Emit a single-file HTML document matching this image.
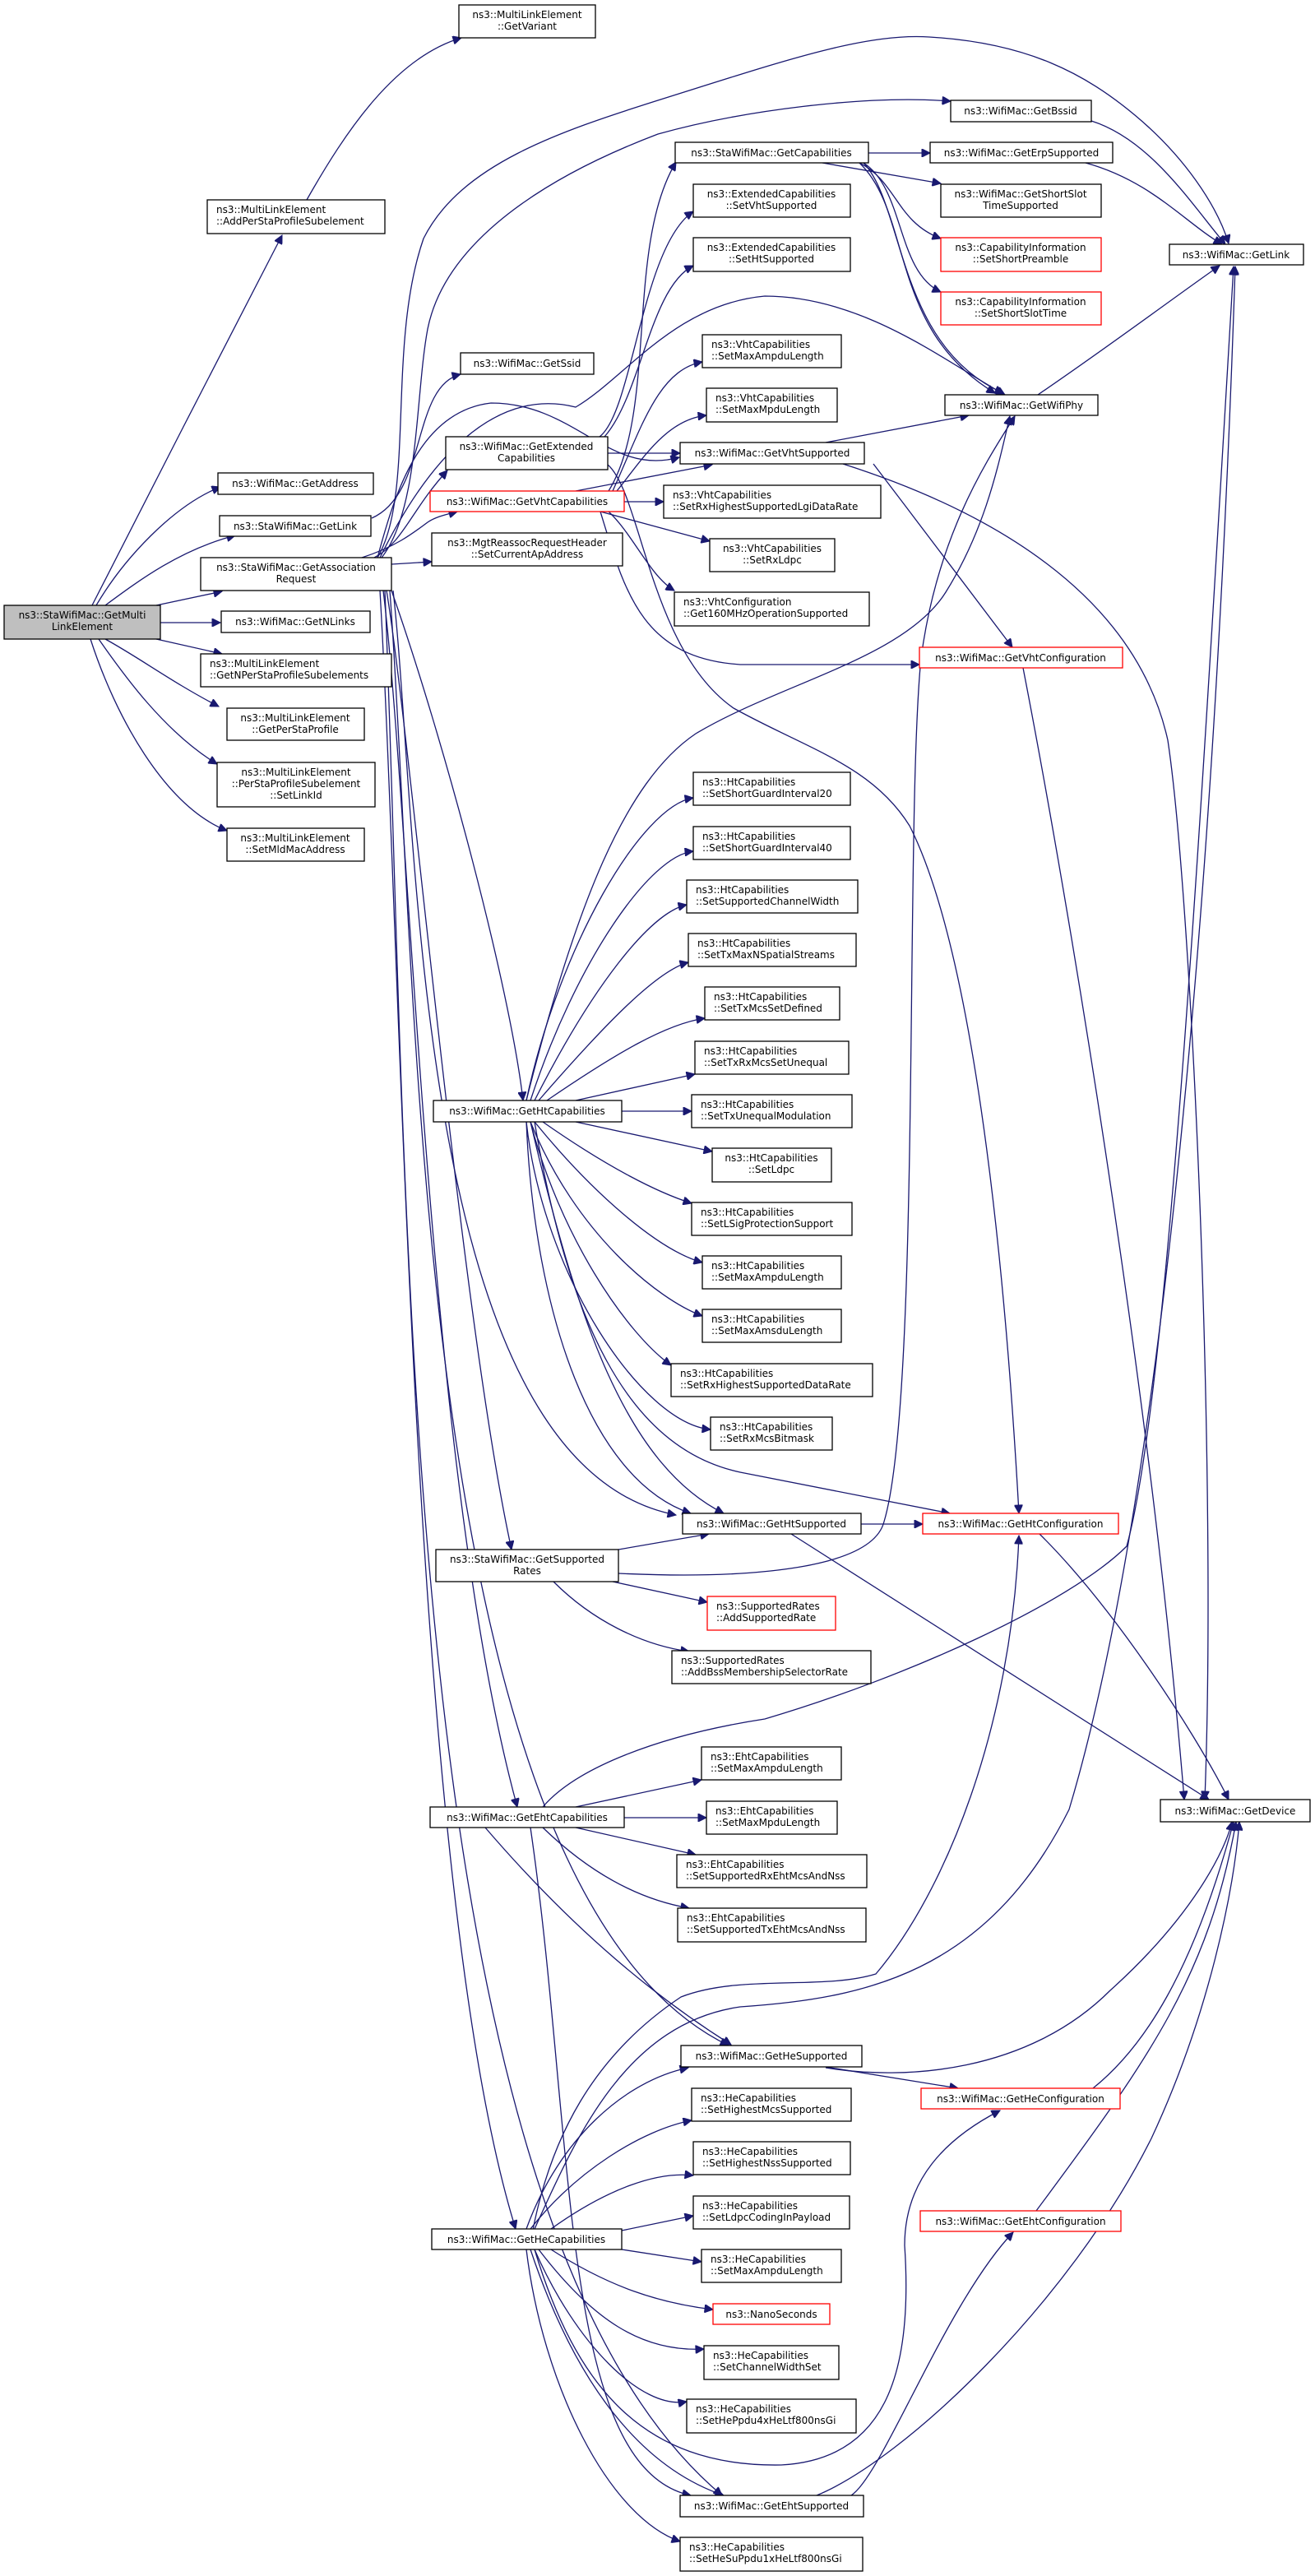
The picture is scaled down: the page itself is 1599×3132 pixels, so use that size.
<!DOCTYPE html>
<html><head><meta charset="utf-8"><style>
html,body{margin:0;padding:0;background:#fff;}
svg{display:block;}
text{font-family:"DejaVu Sans","Liberation Sans",sans-serif;font-size:12px;fill:#000;}
.n{fill:#fff;stroke:#000;stroke-width:1.3;}
.r{fill:#fff;stroke:#ff0000;stroke-width:1.3;}
.g{fill:#bfbfbf;stroke:#000;stroke-width:1.3;}
path{fill:none;stroke:#191970;stroke-width:1.3;}
</style></head><body>
<svg width="1599" height="3132" viewBox="0 0 1599 3132" xmlns="http://www.w3.org/2000/svg">
<defs><marker id="a" viewBox="0 0 10 10" refX="10" refY="5" markerWidth="14" markerHeight="10" markerUnits="userSpaceOnUse" orient="auto"><path d="M0,0 L10,5 L0,10 z" style="fill:#191970;stroke:#191970;stroke-width:1"/></marker></defs>
<g marker-end="url(#a)">
<path d="M112 736 C170 620 290 390 343 286"/>
<path d="M373 243 C420 160 480 70 561 46"/>
<path d="M117 736 C150 680 210 615 268 592"/>
<path d="M128 736 C170 705 220 668 286 651"/>
<path d="M190 736 L270 719"/>
<path d="M195 757 L268 757"/>
<path d="M190 777 L270 795"/>
<path d="M128 777 C170 800 210 830 266 859"/>
<path d="M120 777 C150 820 200 890 264 929"/>
<path d="M110 777 C140 870 200 980 276 1010"/>
<path d="M452 630 C520 600 500 470 560 455"/>
<path d="M455 678 C490 660 500 620 544 572"/>
<path d="M440 678 C480 665 500 650 520 635 C530 628 545 625 556 622"/>
<path d="M476 686 L525 683"/>
<path d="M459 678 C505 600 470 420 515 290 C560 200 680 160 800 122 C950 75 1050 40 1130 45 C1250 52 1320 90 1380 140 C1440 190 1480 250 1494 296"/>
<path d="M464 678 C510 620 505 480 520 400 C540 300 650 220 800 163 C900 135 1050 115 1156 123"/>
<path d="M459 678 C480 600 510 500 597 490 C700 490 740 580 826 556"/>
<path d="M462 678 C520 560 600 470 700 495 C760 460 820 370 930 360 C1050 360 1150 440 1222 480"/>
<path d="M476 718 C540 900 620 1200 636 1338"/>
<path d="M470 718 C500 900 560 1600 622 1884"/>
<path d="M466 718 C500 1000 520 1800 629 2197"/>
<path d="M462 718 C490 1200 500 2300 627 2710"/>
<path d="M478 718 C510 1000 500 1780 822 1842"/>
<path d="M474 718 C510 1200 500 2300 886 2487"/>
<path d="M468 718 C500 1500 480 2700 878 3034"/>
<path d="M729 531 C770 500 780 300 843 257"/>
<path d="M735 531 C780 480 790 350 843 323"/>
<path d="M739 551 L827 551"/>
<path d="M739 565 C780 600 790 790 892 861 C980 910 1060 930 1106 1004 C1180 1150 1220 1500 1239 1840"/>
<path d="M740 597 C800 500 760 300 822 197"/>
<path d="M745 597 C780 520 800 450 854 440"/>
<path d="M750 597 C780 560 810 510 859 505"/>
<path d="M700 597 L866 565"/>
<path d="M759 610 L807 610"/>
<path d="M730 622 L863 658"/>
<path d="M740 622 C770 650 790 700 820 718"/>
<path d="M730 622 C760 720 780 800 900 808 L1118 808"/>
<path d="M1056 186 L1131 186"/>
<path d="M1000 198 L1144 223"/>
<path d="M1045 198 C1090 220 1090 270 1144 290"/>
<path d="M1050 198 C1100 230 1090 330 1144 355"/>
<path d="M1045 198 C1110 260 1080 400 1210 478"/>
<path d="M1050 198 C1100 250 1090 420 1220 478"/>
<path d="M1327 147 C1400 170 1450 250 1490 297"/>
<path d="M1320 198 C1400 220 1440 270 1486 297"/>
<path d="M1262 480 C1350 420 1430 360 1483 323"/>
<path d="M1004 538 L1178 505"/>
<path d="M1062 564 C1120 640 1180 720 1231 787"/>
<path d="M1025 564 C1200 620 1380 720 1420 900 C1450 1100 1480 1800 1465 2188"/>
<path d="M1244 812 C1300 1100 1400 1700 1440 2188"/>
<path d="M660 2197 C700 2150 800 2110 930 2090 C1100 2040 1300 1950 1370 1880 C1420 1700 1460 1000 1500 324"/>
<path d="M650 2710 C700 2600 760 2460 900 2440 C1050 2430 1200 2400 1300 2200 C1420 1800 1480 1000 1502 324"/>
<path d="M752 1913 C900 1920 1060 1910 1075 1850 C1120 1700 1100 1000 1120 800 C1140 650 1200 560 1234 506"/>
<path d="M640 1338 C700 1100 760 950 846 892 C950 830 1100 800 1150 720 C1200 640 1215 560 1228 506"/>
<path d="M640 1338 C680 1150 780 980 843 970"/>
<path d="M645 1338 C700 1170 790 1040 843 1035"/>
<path d="M650 1338 C720 1200 790 1110 835 1100"/>
<path d="M655 1338 C740 1240 800 1180 837 1170"/>
<path d="M665 1338 C750 1280 810 1245 857 1238"/>
<path d="M700 1338 L845 1306"/>
<path d="M756 1351 L841 1351"/>
<path d="M700 1364 L866 1400"/>
<path d="M660 1364 C740 1420 800 1450 841 1463"/>
<path d="M650 1364 C720 1450 800 1520 854 1535"/>
<path d="M645 1364 C700 1500 800 1580 854 1600"/>
<path d="M645 1364 C680 1500 760 1620 816 1660"/>
<path d="M640 1364 C660 1550 780 1730 864 1738"/>
<path d="M640 1364 C650 1600 720 1800 840 1840"/>
<path d="M645 1364 C700 1600 760 1780 880 1840"/>
<path d="M650 1364 C690 1600 760 1760 900 1790 C1000 1810 1100 1830 1155 1840"/>
<path d="M1047 1853 L1122 1853"/>
<path d="M962 1865 L1470 2188"/>
<path d="M1264 1865 C1350 1950 1450 2100 1494 2188"/>
<path d="M752 1884 L862 1865"/>
<path d="M745 1923 L860 1948"/>
<path d="M673 1923 C720 1970 780 2000 838 2008"/>
<path d="M700 2197 L853 2164"/>
<path d="M759 2210 L859 2210"/>
<path d="M700 2222 L846 2255"/>
<path d="M660 2222 C720 2280 780 2310 838 2320"/>
<path d="M645 2222 C700 2600 680 3000 840 3034"/>
<path d="M648 2711 C670 2600 720 2500 828 2428 C900 2400 1000 2420 1065 2400 C1150 2300 1230 2100 1239 1867"/>
<path d="M640 2710 C680 2600 760 2530 837 2514"/>
<path d="M645 2710 C700 2640 780 2590 841 2578"/>
<path d="M670 2710 C740 2660 800 2640 843 2645"/>
<path d="M756 2712 L843 2694"/>
<path d="M756 2735 L853 2750"/>
<path d="M670 2735 C740 2780 800 2800 867 2808"/>
<path d="M655 2735 C720 2820 780 2860 856 2856"/>
<path d="M650 2735 C700 2850 780 2930 835 2920"/>
<path d="M645 2735 C700 2900 780 3000 880 3034"/>
<path d="M640 2735 C660 2900 740 3060 827 3090"/>
<path d="M650 2735 C700 2900 780 3000 950 2997 C1080 2990 1110 2880 1100 2730 C1100 2650 1150 2600 1216 2566"/>
<path d="M1004 2513 L1165 2539"/>
<path d="M1004 2514 C1100 2530 1250 2520 1350 2420 C1450 2330 1490 2250 1498 2215"/>
<path d="M1329 2539 C1390 2490 1450 2400 1500 2215"/>
<path d="M1260 2688 C1400 2500 1470 2400 1503 2215"/>
<path d="M1035 3034 C1073 3010 1150 2800 1232 2714"/>
<path d="M993 3034 C1100 2990 1300 2800 1400 2600 C1470 2450 1500 2300 1507 2215"/>
<path d="M590 2222 C700 2350 800 2430 889 2486"/>
</g>
<g>
<rect class="g" x="5" y="736" width="190" height="41"/><text x="100" y="752" text-anchor="middle">ns3::StaWifiMac::GetMulti</text><text x="100" y="766" text-anchor="middle">LinkElement</text>
<rect class="n" x="558" y="6" width="166" height="40"/><text x="641" y="22" text-anchor="middle">ns3::MultiLinkElement</text><text x="641" y="36" text-anchor="middle">::GetVariant</text>
<rect class="n" x="252" y="243" width="216" height="41"/><text x="263" y="259">ns3::MultiLinkElement</text><text x="263" y="273">::AddPerStaProfileSubelement</text>
<rect class="n" x="560" y="429" width="162" height="26"/><text x="641" y="446" text-anchor="middle">ns3::WifiMac::GetSsid</text>
<rect class="n" x="542" y="531" width="197" height="40"/><text x="640" y="547" text-anchor="middle">ns3::WifiMac::GetExtended</text><text x="640" y="561" text-anchor="middle">Capabilities</text>
<rect class="n" x="265" y="575" width="189" height="26"/><text x="359" y="592" text-anchor="middle">ns3::WifiMac::GetAddress</text>
<rect class="n" x="267" y="627" width="184" height="25"/><text x="359" y="644" text-anchor="middle">ns3::StaWifiMac::GetLink</text>
<rect class="r" x="523" y="597" width="236" height="25"/><text x="641" y="614" text-anchor="middle">ns3::WifiMac::GetVhtCapabilities</text>
<rect class="n" x="525" y="648" width="232" height="40"/><text x="641" y="664" text-anchor="middle">ns3::MgtReassocRequestHeader</text><text x="641" y="678" text-anchor="middle">::SetCurrentApAddress</text>
<rect class="n" x="244" y="678" width="232" height="40"/><text x="360" y="694" text-anchor="middle">ns3::StaWifiMac::GetAssociation</text><text x="360" y="708" text-anchor="middle">Request</text>
<rect class="n" x="269" y="743" width="181" height="26"/><text x="359" y="760" text-anchor="middle">ns3::WifiMac::GetNLinks</text>
<rect class="n" x="244" y="795" width="232" height="40"/><text x="255" y="811">ns3::MultiLinkElement</text><text x="255" y="825">::GetNPerStaProfileSubelements</text>
<rect class="n" x="276" y="861" width="167" height="39"/><text x="359" y="877" text-anchor="middle">ns3::MultiLinkElement</text><text x="359" y="891" text-anchor="middle">::GetPerStaProfile</text>
<rect class="n" x="264" y="927" width="192" height="54"/><text x="360" y="943" text-anchor="middle">ns3::MultiLinkElement</text><text x="360" y="957" text-anchor="middle">::PerStaProfileSubelement</text><text x="360" y="971" text-anchor="middle">::SetLinkId</text>
<rect class="n" x="276" y="1007" width="167" height="40"/><text x="359" y="1023" text-anchor="middle">ns3::MultiLinkElement</text><text x="359" y="1037" text-anchor="middle">::SetMldMacAddress</text>
<rect class="n" x="527" y="1338" width="229" height="26"/><text x="641" y="1355" text-anchor="middle">ns3::WifiMac::GetHtCapabilities</text>
<rect class="n" x="1156" y="122" width="171" height="26"/><text x="1241" y="139" text-anchor="middle">ns3::WifiMac::GetBssid</text>
<rect class="n" x="821" y="173" width="235" height="25"/><text x="938" y="190" text-anchor="middle">ns3::StaWifiMac::GetCapabilities</text>
<rect class="n" x="1131" y="173" width="222" height="25"/><text x="1242" y="190" text-anchor="middle">ns3::WifiMac::GetErpSupported</text>
<rect class="n" x="843" y="224" width="191" height="40"/><text x="938" y="240" text-anchor="middle">ns3::ExtendedCapabilities</text><text x="938" y="254" text-anchor="middle">::SetVhtSupported</text>
<rect class="n" x="1144" y="224" width="195" height="40"/><text x="1241" y="240" text-anchor="middle">ns3::WifiMac::GetShortSlot</text><text x="1241" y="254" text-anchor="middle">TimeSupported</text>
<rect class="n" x="843" y="289" width="191" height="41"/><text x="938" y="305" text-anchor="middle">ns3::ExtendedCapabilities</text><text x="938" y="319" text-anchor="middle">::SetHtSupported</text>
<rect class="r" x="1144" y="289" width="195" height="41"/><text x="1241" y="305" text-anchor="middle">ns3::CapabilityInformation</text><text x="1241" y="319" text-anchor="middle">::SetShortPreamble</text>
<rect class="r" x="1144" y="355" width="195" height="40"/><text x="1241" y="371" text-anchor="middle">ns3::CapabilityInformation</text><text x="1241" y="385" text-anchor="middle">::SetShortSlotTime</text>
<rect class="n" x="1422" y="297" width="163" height="25"/><text x="1503" y="314" text-anchor="middle">ns3::WifiMac::GetLink</text>
<rect class="n" x="854" y="407" width="169" height="40"/><text x="865" y="423">ns3::VhtCapabilities</text><text x="865" y="437">::SetMaxAmpduLength</text>
<rect class="n" x="859" y="472" width="159" height="41"/><text x="870" y="488">ns3::VhtCapabilities</text><text x="870" y="502">::SetMaxMpduLength</text>
<rect class="n" x="1149" y="480" width="186" height="25"/><text x="1242" y="497" text-anchor="middle">ns3::WifiMac::GetWifiPhy</text>
<rect class="n" x="827" y="538" width="224" height="26"/><text x="939" y="555" text-anchor="middle">ns3::WifiMac::GetVhtSupported</text>
<rect class="n" x="807" y="590" width="264" height="40"/><text x="818" y="606">ns3::VhtCapabilities</text><text x="818" y="620">::SetRxHighestSupportedLgiDataRate</text>
<rect class="n" x="863" y="655" width="152" height="40"/><text x="939" y="671" text-anchor="middle">ns3::VhtCapabilities</text><text x="939" y="685" text-anchor="middle">::SetRxLdpc</text>
<rect class="n" x="820" y="720" width="237" height="41"/><text x="831" y="736">ns3::VhtConfiguration</text><text x="831" y="750">::Get160MHzOperationSupported</text>
<rect class="r" x="1118" y="787" width="247" height="25"/><text x="1241" y="804" text-anchor="middle">ns3::WifiMac::GetVhtConfiguration</text>
<rect class="n" x="843" y="939" width="191" height="40"/><text x="854" y="955">ns3::HtCapabilities</text><text x="854" y="969">::SetShortGuardInterval20</text>
<rect class="n" x="843" y="1005" width="191" height="40"/><text x="854" y="1021">ns3::HtCapabilities</text><text x="854" y="1035">::SetShortGuardInterval40</text>
<rect class="n" x="835" y="1070" width="208" height="40"/><text x="846" y="1086">ns3::HtCapabilities</text><text x="846" y="1100">::SetSupportedChannelWidth</text>
<rect class="n" x="837" y="1135" width="204" height="40"/><text x="848" y="1151">ns3::HtCapabilities</text><text x="848" y="1165">::SetTxMaxNSpatialStreams</text>
<rect class="n" x="857" y="1200" width="164" height="40"/><text x="868" y="1216">ns3::HtCapabilities</text><text x="868" y="1230">::SetTxMcsSetDefined</text>
<rect class="n" x="845" y="1266" width="187" height="40"/><text x="856" y="1282">ns3::HtCapabilities</text><text x="856" y="1296">::SetTxRxMcsSetUnequal</text>
<rect class="n" x="841" y="1331" width="195" height="40"/><text x="852" y="1347">ns3::HtCapabilities</text><text x="852" y="1361">::SetTxUnequalModulation</text>
<rect class="n" x="866" y="1396" width="145" height="41"/><text x="938" y="1412" text-anchor="middle">ns3::HtCapabilities</text><text x="938" y="1426" text-anchor="middle">::SetLdpc</text>
<rect class="n" x="841" y="1462" width="195" height="40"/><text x="852" y="1478">ns3::HtCapabilities</text><text x="852" y="1492">::SetLSigProtectionSupport</text>
<rect class="n" x="854" y="1527" width="169" height="40"/><text x="865" y="1543">ns3::HtCapabilities</text><text x="865" y="1557">::SetMaxAmpduLength</text>
<rect class="n" x="854" y="1592" width="169" height="40"/><text x="865" y="1608">ns3::HtCapabilities</text><text x="865" y="1622">::SetMaxAmsduLength</text>
<rect class="n" x="816" y="1658" width="245" height="40"/><text x="827" y="1674">ns3::HtCapabilities</text><text x="827" y="1688">::SetRxHighestSupportedDataRate</text>
<rect class="n" x="864" y="1723" width="148" height="40"/><text x="875" y="1739">ns3::HtCapabilities</text><text x="875" y="1753">::SetRxMcsBitmask</text>
<rect class="n" x="830" y="1840" width="217" height="25"/><text x="938" y="1857" text-anchor="middle">ns3::WifiMac::GetHtSupported</text>
<rect class="r" x="1122" y="1840" width="238" height="25"/><text x="1241" y="1857" text-anchor="middle">ns3::WifiMac::GetHtConfiguration</text>
<rect class="n" x="530" y="1884" width="222" height="39"/><text x="641" y="1900" text-anchor="middle">ns3::StaWifiMac::GetSupported</text><text x="641" y="1914" text-anchor="middle">Rates</text>
<rect class="r" x="860" y="1941" width="156" height="41"/><text x="871" y="1957">ns3::SupportedRates</text><text x="871" y="1971">::AddSupportedRate</text>
<rect class="n" x="817" y="2007" width="242" height="40"/><text x="828" y="2023">ns3::SupportedRates</text><text x="828" y="2037">::AddBssMembershipSelectorRate</text>
<rect class="n" x="853" y="2124" width="170" height="40"/><text x="864" y="2140">ns3::EhtCapabilities</text><text x="864" y="2154">::SetMaxAmpduLength</text>
<rect class="n" x="1411" y="2188" width="182" height="27"/><text x="1502" y="2206" text-anchor="middle">ns3::WifiMac::GetDevice</text>
<rect class="n" x="523" y="2197" width="236" height="25"/><text x="641" y="2214" text-anchor="middle">ns3::WifiMac::GetEhtCapabilities</text>
<rect class="n" x="859" y="2190" width="159" height="40"/><text x="870" y="2206">ns3::EhtCapabilities</text><text x="870" y="2220">::SetMaxMpduLength</text>
<rect class="n" x="823" y="2255" width="231" height="40"/><text x="834" y="2271">ns3::EhtCapabilities</text><text x="834" y="2285">::SetSupportedRxEhtMcsAndNss</text>
<rect class="n" x="824" y="2320" width="229" height="41"/><text x="835" y="2336">ns3::EhtCapabilities</text><text x="835" y="2350">::SetSupportedTxEhtMcsAndNss</text>
<rect class="n" x="828" y="2487" width="220" height="26"/><text x="938" y="2504" text-anchor="middle">ns3::WifiMac::GetHeSupported</text>
<rect class="r" x="1120" y="2539" width="242" height="25"/><text x="1241" y="2556" text-anchor="middle">ns3::WifiMac::GetHeConfiguration</text>
<rect class="n" x="841" y="2539" width="194" height="40"/><text x="852" y="2555">ns3::HeCapabilities</text><text x="852" y="2569">::SetHighestMcsSupported</text>
<rect class="n" x="843" y="2604" width="191" height="40"/><text x="854" y="2620">ns3::HeCapabilities</text><text x="854" y="2634">::SetHighestNssSupported</text>
<rect class="n" x="843" y="2670" width="190" height="40"/><text x="854" y="2686">ns3::HeCapabilities</text><text x="854" y="2700">::SetLdpcCodingInPayload</text>
<rect class="r" x="1119" y="2688" width="244" height="25"/><text x="1241" y="2705" text-anchor="middle">ns3::WifiMac::GetEhtConfiguration</text>
<rect class="n" x="525" y="2710" width="231" height="25"/><text x="640" y="2727" text-anchor="middle">ns3::WifiMac::GetHeCapabilities</text>
<rect class="n" x="853" y="2735" width="170" height="40"/><text x="864" y="2751">ns3::HeCapabilities</text><text x="864" y="2765">::SetMaxAmpduLength</text>
<rect class="r" x="867" y="2801" width="142" height="25"/><text x="938" y="2818" text-anchor="middle">ns3::NanoSeconds</text>
<rect class="n" x="856" y="2852" width="164" height="41"/><text x="867" y="2868">ns3::HeCapabilities</text><text x="867" y="2882">::SetChannelWidthSet</text>
<rect class="n" x="835" y="2917" width="206" height="41"/><text x="846" y="2933">ns3::HeCapabilities</text><text x="846" y="2947">::SetHePpdu4xHeLtf800nsGi</text>
<rect class="n" x="827" y="3034" width="223" height="26"/><text x="938" y="3051" text-anchor="middle">ns3::WifiMac::GetEhtSupported</text>
<rect class="n" x="827" y="3085" width="222" height="41"/><text x="838" y="3101">ns3::HeCapabilities</text><text x="838" y="3115">::SetHeSuPpdu1xHeLtf800nsGi</text>
</g>
</svg>
</body></html>
